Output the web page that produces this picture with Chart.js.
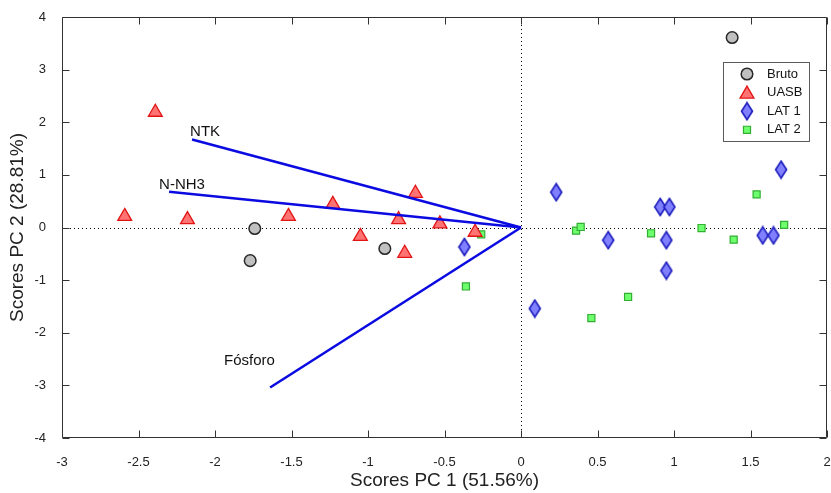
<!DOCTYPE html>
<html>
<head>
<meta charset="utf-8">
<script src="https://cdn.jsdelivr.net/npm/chart.js@4.4.0/dist/chart.umd.min.js"></script>
<style>
  html, body { margin: 0; padding: 0; background: #fff; }
  #wrap { width: 831px; height: 493px; }
</style>
</head>
<body>
<div id="wrap"><canvas id="c" width="831" height="493"></canvas></div>
<script>
// ---- data ----
const seriesNames = ["Bruto", "UASB", "LAT 1", "LAT 2"];
const brutoX = [1.38, -1.74, -1.77, -0.89];
const brutoY = [3.61, -0.02, -0.63, -0.40];
const uasbX = [-2.39, -2.59, -2.18, -1.52, -1.23, -1.05, -0.80, -0.76, -0.69, -0.53, -0.30];
const uasbY = [2.19, 0.21, 0.15, 0.21, 0.44, -0.17, 0.15, -0.49, 0.65, 0.07, -0.09];
const lat1X = [-0.37, 0.09, 0.23, 0.57, 0.91, 0.97, 0.95, 0.95, 1.58, 1.65, 1.70];
const lat1Y = [-0.37, -1.54, 0.67, -0.24, 0.39, 0.39, -0.24, -0.82, -0.15, -0.15, 1.10];
const lat2X = [-0.36, -0.26, 0.36, 0.39, 0.46, 0.70, 0.85, 1.18, 1.39, 1.54, 1.72];
const lat2Y = [-1.12, -0.13, -0.06, 0.01, -1.72, -1.32, -0.11, -0.01, -0.23, 0.63, 0.05];
const loadingNames = ["NTK", "N-NH3", "Fósforo"];
const loadingX = [-2.15, -2.30, -1.64];
const loadingY = [1.67, 0.68, -3.04];
const xTicks = [-3, -2.5, -2, -1.5, -1, -0.5, 0, 0.5, 1, 1.5, 2];
const yTicks = [-4, -3, -2, -1, 0, 1, 2, 3, 4];
const xTitle = "Scores PC 1 (51.56%)";
const yTitle = "Scores PC 2 (28.81%)";

const pts = (xs, ys) => xs.map((x, i) => ({ x: x, y: ys[i] }));

// tall diamond marker
function diamondCanvas() {
  const w = 14, h = 20;
  const c = document.createElement('canvas');
  c.width = w; c.height = h;
  const g = c.getContext('2d');
  g.beginPath();
  g.moveTo(w / 2, 1.5);
  g.lineTo(w - 1.5, h / 2);
  g.lineTo(w / 2, h - 1.5);
  g.lineTo(1.5, h / 2);
  g.closePath();
  g.fillStyle = 'rgb(128,128,255)';
  g.fill();
  g.lineWidth = 1.6;
  g.strokeStyle = 'rgb(30,30,190)';
  g.stroke();
  return c;
}
const diamond = diamondCanvas();

const tickFont = "'Liberation Sans Narrow', 'Liberation Sans', Arial, sans-serif";
const textFont = "'Liberation Sans', Arial, sans-serif";

const datasets = [];
loadingNames.forEach((n, i) => {
  datasets.push({
    label: n,
    type: 'line',
    data: [{ x: 0, y: 0 }, { x: loadingX[i], y: loadingY[i] }],
    borderColor: 'rgb(10,10,225)',
    borderWidth: 2.6,
    pointRadius: 0,
    showLine: true,
    fill: false,
    order: 0,
    isLoading: true
  });
});
datasets.push({
  label: seriesNames[0], data: pts(brutoX, brutoY), pointStyle: 'circle', pointRadius: 5.8,
  backgroundColor: 'rgb(192,192,192)', borderColor: 'rgb(40,40,40)', borderWidth: 1.5, order: 1
});
datasets.push({
  label: seriesNames[1], data: pts(uasbX, uasbY), pointStyle: 'triangle', pointRadius: 8,
  backgroundColor: 'rgb(255,115,115)', borderColor: 'rgb(225,20,20)', borderWidth: 1.3, order: 1
});
datasets.push({
  label: seriesNames[2], data: pts(lat1X, lat1Y), pointStyle: diamond, pointRadius: 8,
  backgroundColor: 'rgb(128,128,255)', borderColor: 'rgb(30,30,190)', borderWidth: 1.5, order: 1
});
datasets.push({
  label: seriesNames[3], data: pts(lat2X, lat2Y), pointStyle: 'rect', pointRadius: 5,
  backgroundColor: 'rgb(110,255,110)', borderColor: 'rgb(50,175,50)', borderWidth: 1.2, order: 1
});

const decor = {
  id: 'decor',
  beforeDatasetsDraw(chart) {
    const { ctx, chartArea: a, scales: { x, y } } = chart;
    ctx.save();
    ctx.strokeStyle = '#000';
    ctx.lineWidth = 1;
    ctx.setLineDash([1, 3]);
    const x0 = Math.round(x.getPixelForValue(0)) + 0.5;
    const y0 = Math.round(y.getPixelForValue(0)) + 0.5;
    ctx.beginPath();
    ctx.moveTo(x0, a.top); ctx.lineTo(x0, a.bottom);
    ctx.moveTo(a.left, y0); ctx.lineTo(a.right, y0);
    ctx.stroke();
    ctx.restore();
  },
  afterDraw(chart) {
    const { ctx, chartArea: a, scales: { x, y } } = chart;
    ctx.save();
    ctx.setLineDash([]);
    // frame and inward ticks
    ctx.strokeStyle = 'rgb(50,50,50)';
    ctx.lineWidth = 1;
    const L = Math.round(a.left) + 0.5, R = Math.round(a.right) - 0.5;
    const T = Math.round(a.top) + 0.5, B = Math.round(a.bottom) - 0.5;
    ctx.beginPath();
    ctx.moveTo(L, T); ctx.lineTo(R, T); ctx.lineTo(R, B); ctx.lineTo(L, B); ctx.closePath();
    const tl = 7;
    xTicks.forEach(v => {
      const px = Math.round(x.getPixelForValue(v)) + 0.5;
      ctx.moveTo(px, B); ctx.lineTo(px, B - tl);
      ctx.moveTo(px, T); ctx.lineTo(px, T + tl);
    });
    yTicks.forEach(v => {
      const py = Math.round(y.getPixelForValue(v)) + 0.5;
      ctx.moveTo(L, py); ctx.lineTo(L + tl, py);
      ctx.moveTo(R, py); ctx.lineTo(R - tl, py);
    });
    ctx.stroke();

    // loading labels
    ctx.fillStyle = '#111';
    ctx.font = '15px ' + textFont;
    ctx.textAlign = 'left';
    ctx.textBaseline = 'alphabetic';
    const offs = [[-2, -4], [-10, -3], [-46, -22]];
    loadingNames.forEach((n, i) => {
      const px = x.getPixelForValue(loadingX[i]);
      const py = y.getPixelForValue(loadingY[i]);
      ctx.fillText(n, px + offs[i][0], py + offs[i][1]);
    });

    // axis titles
    ctx.fillStyle = '#222';
    ctx.font = '19px ' + textFont;
    ctx.textAlign = 'center';
    ctx.textBaseline = 'middle';
    ctx.fillText(xTitle, (a.left + a.right) / 2, 481);
    ctx.save();
    ctx.translate(18, (a.top + a.bottom) / 2);
    ctx.rotate(-Math.PI / 2);
    ctx.fillText(yTitle, 0, 0);
    ctx.restore();

    // legend
    const lx = 723.5, ly = 62.5, lw = 86, lh = 79;
    ctx.fillStyle = '#fff';
    ctx.fillRect(lx, ly, lw, lh);
    ctx.strokeStyle = 'rgb(90,90,90)';
    ctx.lineWidth = 1;
    ctx.strokeRect(lx, ly, lw, lh);
    ctx.font = '13px ' + textFont;
    ctx.textAlign = 'left';
    ctx.textBaseline = 'middle';
    const scat = chart.data.datasets.filter(d => !d.isLoading);
    scat.forEach((d, i) => {
      const cy = 74 + i * 18.6;
      ctx.fillStyle = d.backgroundColor;
      ctx.strokeStyle = d.borderColor;
      ctx.lineWidth = d.borderWidth;
      Chart.helpers.drawPoint(ctx, { pointStyle: d.pointStyle, radius: d.pointRadius, rotation: 0, borderWidth: d.borderWidth }, 747, cy + (d.pointStyle === 'triangle' ? 1.5 : 0));
      ctx.fillStyle = '#111';
      ctx.fillText(d.label, 767, cy);
    });
    ctx.restore();
  }
};

new Chart(document.getElementById('c'), {
  type: 'scatter',
  data: { datasets: datasets },
  options: {
    responsive: false,
    animation: false,
    devicePixelRatio: 1,
    layout: { autoPadding: false, padding: { top: 17, right: 4, left: 0, bottom: 0 } },
    plugins: { legend: { display: false }, tooltip: { enabled: false } },
    scales: {
      x: {
        type: 'linear', min: -3, max: 2,
        afterFit(s) { s.height = 55; s.paddingLeft = 0; s.paddingRight = 0; },
        afterBuildTicks(s) { s.ticks = xTicks.map(v => ({ value: v })); },
        grid: { display: false }, border: { display: false },
        ticks: { padding: 9, color: '#222', font: { family: tickFont, size: 13 }, autoSkip: false, maxRotation: 0, callback: v => String(v) }
      },
      y: {
        type: 'linear', min: -4, max: 4,
        afterFit(s) { s.width = 62; s.paddingTop = 0; s.paddingBottom = 0; },
        afterBuildTicks(s) { s.ticks = yTicks.map(v => ({ value: v })); },
        grid: { display: false }, border: { display: false },
        ticks: { padding: 8, color: '#222', font: { family: tickFont, size: 13 }, autoSkip: false, callback: v => String(v) }
      }
    }
  },
  plugins: [decor]
});
</script>
</body>
</html>
